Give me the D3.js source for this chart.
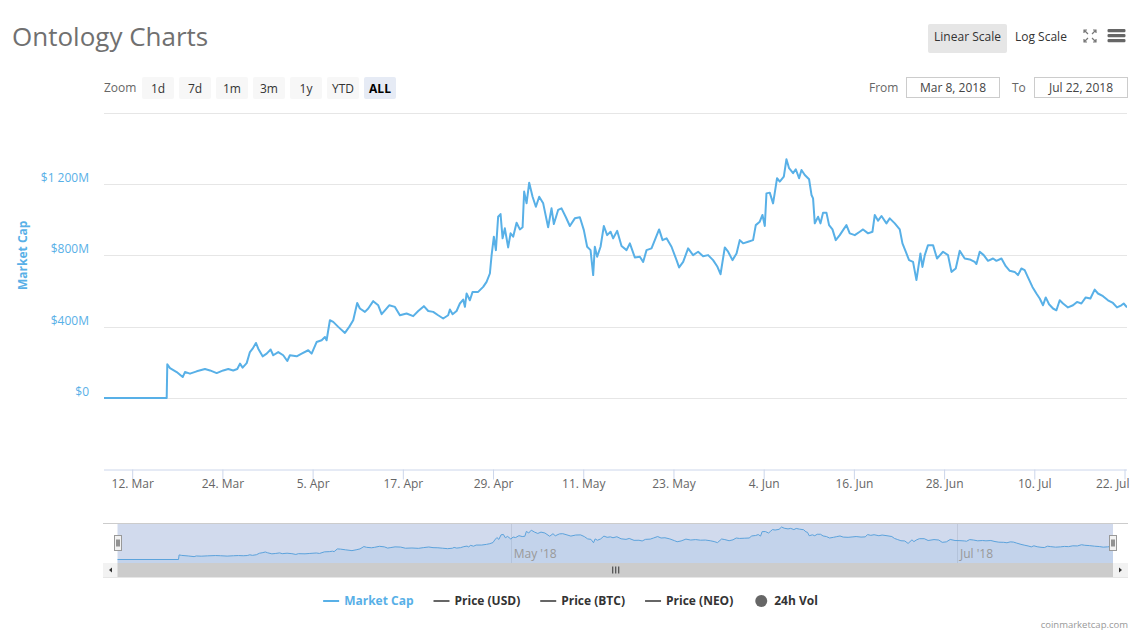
<!DOCTYPE html>
<html lang="en">
<head>
<meta charset="UTF-8">
<title>Ontology Charts</title>
<script src="https://d3js.org/d3.v7.min.js"></script>
<style>
    body { margin: 0; background: #fff; }
    svg text { font-family: "Open Sans", sans-serif; }
</style>
</head>
<body>
<div id="chart"></div>
<script>
    // data: market cap in $M, time as days after the first point (2018-03-08 06:00 UTC)
    const startTime = Date.UTC(2018, 2, 8, 6);
    const dayOffsets = [
        0, 8.34, 8.42, 8.78, 9.67, 10.47, 10.77, 11.44, 12.33, 13.43,
        14.10, 14.99, 15.86, 16.53, 17.19, 17.73, 18.09, 18.44, 18.98, 19.41,
        19.77, 20.21, 20.52, 21.10, 21.64, 22.17, 22.51, 23.18, 23.84, 24.38,
        24.73, 25.63, 26.29, 27.17, 27.62, 28.28, 28.95, 29.39, 29.61, 30.05,
        30.49, 31.16, 32.05, 32.62, 33.15, 33.68, 34.04, 34.71, 35.15, 35.81,
        36.48, 36.93, 37.37, 37.94, 38.70, 39.36, 40.25, 41.13, 41.80, 42.55,
        43.13, 43.79, 44.45, 45.12, 45.78, 46.01, 46.37, 46.90, 47.34, 47.78,
        48.01, 48.23, 48.67, 49.03, 49.77, 50.44, 50.89, 51.33, 51.56, 51.86,
        52.13, 52.43, 52.75, 53.02, 53.32, 53.76, 54.08, 54.43, 54.88, 55.32,
        55.68, 55.89, 56.21, 56.56, 57.01, 57.45, 57.89, 58.42, 59.08, 59.53,
        59.84, 60.41, 60.86, 61.44, 61.97, 62.63, 63.30, 63.83, 64.27, 64.72,
        65.07, 65.29, 65.60, 66.05, 66.49, 66.93, 67.38, 67.73, 68.26, 68.84,
        69.51, 69.95, 70.61, 71.28, 71.72, 72.17, 72.83, 73.27, 73.84, 74.30,
        74.83, 75.49, 76.16, 76.50, 77.04, 77.70, 78.36, 79.03, 79.69, 80.36,
        81.02, 81.56, 82.01, 82.58, 83.02, 83.60, 84.14, 84.57, 85.01, 85.68,
        86.34, 86.70, 87.23, 87.59, 87.90, 88.12, 88.56, 89.00, 89.23, 89.53,
        89.89, 90.43, 90.78, 91.13, 91.66, 92.02, 92.46, 92.78, 93.22, 93.79,
        94.11, 94.32, 94.55, 94.99, 95.31, 95.65, 96.10, 96.45, 96.90, 97.34,
        97.87, 98.31, 98.76, 99.20, 99.87, 100.53, 100.97, 101.64, 102.22, 102.53,
        102.97, 103.42, 104.08, 104.52, 105.19, 105.85, 106.21, 106.65, 107.09, 107.62,
        108.07, 108.60, 108.87, 109.18, 109.61, 110.28, 110.81, 111.61, 112.27, 112.73,
        113.30, 113.83, 114.49, 115.16, 115.82, 116.05, 116.49, 117.02, 117.59, 118.26,
        118.71, 119.38, 119.95, 120.48, 121.14, 121.58, 122.03, 122.47, 122.91, 123.50,
        124.03, 124.47, 124.91, 125.27, 125.71, 126.24, 126.69, 127.13, 127.57, 128.23,
        128.90, 129.43, 130.01, 130.59, 131.21, 131.78, 132.22, 132.89, 133.55, 134.21,
        134.75, 135.33, 135.64, 136.08
    ];
    const marketCapM = [
        0, 0, 189, 168, 146, 118, 146, 137, 150, 163,
        155, 140, 155, 163, 155, 163, 193, 171, 196, 258,
        277, 309, 277, 234, 249, 272, 240, 258, 240, 208,
        240, 234, 249, 268, 249, 314, 324, 342, 324, 436,
        427, 399, 365, 399, 436, 533, 502, 483, 502, 543,
        520, 470, 492, 520, 511, 464, 474, 459, 488, 515,
        488, 483, 464, 446, 464, 496, 470, 488, 530, 552,
        511, 586, 548, 595, 595, 623, 651, 698, 801, 904,
        829, 1016, 1031, 895, 951, 844, 923, 904, 982, 945,
        957, 1157, 1091, 1207, 1128, 1072, 1128, 1091, 957, 1063,
        975, 1054, 1063, 1013, 964, 1007, 1013, 941, 848, 829,
        689, 848, 792, 848, 964, 913, 932, 895, 937, 852,
        829, 867, 788, 792, 763, 829, 839, 885, 945, 885,
        895, 848, 773, 732, 763, 839, 801, 820, 795, 801,
        773, 739, 694, 844, 820, 773, 810, 885, 867, 876,
        885, 969, 988, 1026, 964, 1147, 1151, 1091, 1151, 1232,
        1213, 1241, 1338, 1288, 1260, 1282, 1232, 1278, 1250, 1226,
        1138, 1119, 979, 1016, 979, 1039, 1039, 969, 945, 885,
        913, 941, 969, 923, 913, 932, 945, 923, 932, 1026,
        994, 1020, 979, 1007, 979, 945, 867, 820, 773, 763,
        661, 810, 735, 801, 857, 857, 782, 820, 801, 707,
        726, 825, 782, 777, 763, 751, 820, 801, 769, 782,
        769, 782, 739, 713, 707, 689, 726, 717, 676, 623,
        586, 558, 520, 564, 526, 502, 492, 548, 530, 508,
        520, 539, 530, 564, 558, 608, 586, 571, 548, 533,
        508, 520, 530, 508
    ];

    const yTickValues = [0, 400, 800, 1200];
    const yGridValues = [0, 400, 800, 1200, 1600];
    const yDomain = [-400, 1600];
    const xTickDates = ["2018-03-12", "2018-03-24", "2018-04-05", "2018-04-17", "2018-04-29", "2018-05-11",
                        "2018-05-23", "2018-06-04", "2018-06-16", "2018-06-28", "2018-07-10", "2018-07-22"];
    const navTickDates = ["2018-05-01", "2018-07-01"];
    const zoomButtons = ["1d", "7d", "1m", "3m", "1y", "YTD", "ALL"];
    const selectedZoom = "ALL";
    const rangeFrom = "Mar 8, 2018";
    const rangeTo = "Jul 22, 2018";
    const legendNames = ["Market Cap", "Price (USD)", "Price (BTC)", "Price (NEO)", "24h Vol"];
    const legendSymbols = ["line", "line", "line", "line", "circle"];

    const blue = "#58b0e7";
    const W = 1141, H = 638;
    const plot = {left: 104, right: 1127, top: 112.5, bottom: 469.5};
    const nav = {left: 117.5, right: 1113, top: 523.5, bottom: 563};

    const series = dayOffsets.map((d, i) => ({
        date: new Date(startTime + d * 86400000),
        value: marketCapM[i]
    }));

    const svg = d3.select("#chart").append("svg")
        .attr("width", W)
        .attr("height", H);

    // title
    svg.append("text")
        .attr("x", 12).attr("y", 46)
        .attr("font-size", 26)
        .attr("fill", "#707070")
        .text("Ontology Charts");

    // scales
    const x = d3.scaleUtc()
        .domain(d3.extent(series, d => d.date))
        .range([plot.left, plot.right]);
    const y = d3.scaleLinear()
        .domain(yDomain)
        .range([plot.bottom, plot.top]);

    // grid lines
    svg.append("g").selectAll("line")
        .data(yGridValues)
        .join("line")
        .attr("x1", plot.left).attr("x2", plot.right)
        .attr("y1", d => Math.round(y(d)) + 0.5)
        .attr("y2", d => Math.round(y(d)) + 0.5)
        .attr("stroke", "#e6e6e6");

    // y labels
    const fmtLocale = d3.formatLocale({decimal: ".", thousands: " ", grouping: [3], currency: ["$", ""]});
    const fmtNum = fmtLocale.format(",");
    svg.append("g").selectAll("text")
        .data(yTickValues)
        .join("text")
        .attr("x", 89)
        .attr("y", d => y(d) - 2)
        .attr("text-anchor", "end")
        .attr("font-size", 12)
        .attr("fill", blue)
        .text(d => d === 0 ? "$0" : "$" + fmtNum(d) + "M");

    svg.append("text")
        .attr("transform", `translate(27,${y(800)}) rotate(-90)`)
        .attr("text-anchor", "middle")
        .attr("font-size", 12)
        .attr("font-weight", "bold")
        .attr("fill", blue)
        .text("Market Cap");

    // x axis
    const xAxisG = svg.append("g")
        .attr("transform", `translate(0,${plot.bottom})`)
        .call(d3.axisBottom(x)
            .tickValues(xTickDates.map(s => new Date(s + "T00:00:00Z")))
            .tickFormat(d3.utcFormat("%-d. %b"))
            .tickSize(10)
            .tickSizeOuter(0));
    xAxisG.select(".domain").attr("stroke", "#ccd6eb").attr("d", `M${plot.left},0.5H${plot.right}`);
    xAxisG.selectAll(".tick line").attr("stroke", "#ccd6eb");
    xAxisG.selectAll(".tick text")
        .attr("font-size", 12)
        .attr("fill", "#666")
        .attr("font-family", "Open Sans, sans-serif")
        .attr("dy", "0.71em")
        .attr("y", 10);
    xAxisG.selectAll(".tick").filter((d, i, n) => i === n.length - 1)
        .select("text")
        .attr("text-anchor", "end")
        .attr("x", plot.right - x(new Date(xTickDates[xTickDates.length - 1] + "T00:00:00Z")) + 2);

    // main line
    svg.append("clipPath").attr("id", "plotClip")
        .append("rect")
        .attr("x", plot.left).attr("y", plot.top)
        .attr("width", plot.right - plot.left).attr("height", plot.bottom - plot.top);

    const line = d3.line()
        .x(d => x(d.date))
        .y(d => y(d.value));

    svg.append("path")
        .datum(series)
        .attr("clip-path", "url(#plotClip)")
        .attr("fill", "none")
        .attr("stroke", blue)
        .attr("stroke-width", 2)
        .attr("stroke-linejoin", "round")
        .attr("d", line);

    // range selector buttons
    svg.append("text")
        .attr("x", 104).attr("y", 92)
        .attr("font-size", 12).attr("fill", "#666")
        .text("Zoom");
    const btn = svg.append("g").selectAll("g")
        .data(zoomButtons)
        .join("g")
        .attr("transform", (d, i) => `translate(${142 + i * 37},77)`);
    btn.append("rect")
        .attr("width", 32).attr("height", 22).attr("rx", 2)
        .attr("fill", d => d === selectedZoom ? "#e6ebf5" : "#f7f7f7");
    btn.append("text")
        .attr("x", 16).attr("y", 15.5)
        .attr("text-anchor", "middle")
        .attr("font-size", 12)
        .attr("font-weight", d => d === selectedZoom ? "bold" : "normal")
        .attr("fill", d => d === selectedZoom ? "#000" : "#333")
        .text(d => d);

    // from / to inputs
    svg.append("text").attr("x", 869).attr("y", 92)
        .attr("font-size", 12).attr("fill", "#666").text("From");
    svg.append("text").attr("x", 1012).attr("y", 92)
        .attr("font-size", 12).attr("fill", "#666").text("To");
    [[906.5, rangeFrom], [1034.5, rangeTo]].forEach(([bx, label]) => {
        svg.append("rect")
            .attr("x", bx).attr("y", 77.5)
            .attr("width", 93).attr("height", 20)
            .attr("fill", "#fff").attr("stroke", "#cccccc");
        svg.append("text")
            .attr("x", bx + 46.5).attr("y", 92)
            .attr("text-anchor", "middle")
            .attr("font-size", 12).attr("fill", "#444")
            .text(label);
    });

    // scale buttons and icons
    svg.append("rect")
        .attr("x", 928).attr("y", 24).attr("width", 79).attr("height", 29).attr("rx", 2)
        .attr("fill", "#e6e6e6");
    svg.append("text").attr("x", 967.5).attr("y", 40.5)
        .attr("text-anchor", "middle").attr("font-size", 12).attr("fill", "#333")
        .text("Linear Scale");
    svg.append("text").attr("x", 1015).attr("y", 40.5)
        .attr("font-size", 12).attr("fill", "#333")
        .text("Log Scale");
    const fs = svg.append("g").attr("stroke", "#777").attr("stroke-width", 1.2).attr("fill", "none");
    fs.append("path").attr("d",
        "M1084,33V30H1087M1084,30L1088,34" +
        "M1093,30H1096V33M1096,30L1092,34" +
        "M1084,39V42H1087M1084,42L1088,38" +
        "M1093,42H1096V39M1096,42L1092,38");
    svg.append("g").selectAll("rect")
        .data([0, 1, 2])
        .join("rect")
        .attr("x", 1107.5).attr("y", d => 29 + d * 5)
        .attr("width", 18).attr("height", 3.2).attr("rx", 1.2)
        .attr("fill", "#666");

    // navigator
    const xn = d3.scaleUtc().domain(x.domain()).range([nav.left, nav.right]);
    const yn = d3.scaleLinear().domain([0, d3.max(marketCapM)]).range([559.5, 527]);

    svg.append("g").selectAll("line")
        .data(navTickDates.map(s => new Date(s + "T00:00:00Z")))
        .join("line")
        .attr("x1", d => Math.round(xn(d)) + 0.5).attr("x2", d => Math.round(xn(d)) + 0.5)
        .attr("y1", nav.top).attr("y2", nav.bottom)
        .attr("stroke", "#e6e6e6");

    svg.append("path")
        .datum(series)
        .attr("fill", blue).attr("fill-opacity", 0.12)
        .attr("d", d3.area().x(d => xn(d.date)).y0(nav.bottom).y1(d => yn(d.value)));
    svg.append("path")
        .datum(series)
        .attr("fill", "none").attr("stroke", blue).attr("stroke-width", 1)
        .attr("d", d3.line().x(d => xn(d.date)).y(d => yn(d.value)));

    svg.append("rect")
        .attr("x", nav.left).attr("y", nav.top)
        .attr("width", nav.right - nav.left).attr("height", nav.bottom - nav.top)
        .attr("fill", "rgba(102,133,194,0.3)");

    svg.append("g").selectAll("text")
        .data(navTickDates.map(s => new Date(s + "T00:00:00Z")))
        .join("text")
        .attr("x", d => xn(d) + 3).attr("y", 558)
        .attr("font-size", 12).attr("fill", "#999")
        .text(d3.utcFormat("%b '%y"));

    svg.append("line")
        .attr("x1", plot.left - 1).attr("x2", plot.right + 1)
        .attr("y1", nav.top).attr("y2", nav.top)
        .attr("stroke", "#cccccc");

    // scrollbar
    svg.append("rect")
        .attr("x", plot.left - 1).attr("y", 563).attr("width", plot.right - plot.left + 2).attr("height", 14)
        .attr("fill", "#f2f2f2");
    svg.append("rect")
        .attr("x", nav.left).attr("y", 563).attr("width", nav.right - nav.left).attr("height", 14)
        .attr("fill", "#cccccc");
    svg.append("g").attr("stroke", "#333").selectAll("line")
        .data([-3, 0, 3])
        .join("line")
        .attr("x1", d => (nav.left + nav.right) / 2 + d + 0.5)
        .attr("x2", d => (nav.left + nav.right) / 2 + d + 0.5)
        .attr("y1", 566.5).attr("y2", 573.5);
    svg.append("path").attr("fill", "#333")
        .attr("d", `M${plot.left + 5},570L${plot.left + 8},567.5V572.5Z`);
    svg.append("path").attr("fill", "#333")
        .attr("d", `M${plot.right - 5},570L${plot.right - 8},567.5V572.5Z`);
    svg.append("line")
        .attr("x1", plot.left - 1).attr("x2", plot.right + 1)
        .attr("y1", 577.5).attr("y2", 577.5)
        .attr("stroke", "#e6e6e6");

    // navigator handles
    [nav.left, nav.right].forEach(hx => {
        const g = svg.append("g").attr("transform", `translate(${Math.round(hx) - 3.5},535.5)`);
        g.append("rect").attr("width", 7).attr("height", 15)
            .attr("fill", "#f2f2f2").attr("stroke", "#999");
        g.append("path").attr("stroke", "#333").attr("d", "M2.5,4V11M4.5,4V11");
    });

    // legend
    const legend = svg.append("g");
    const items = legend.selectAll("g")
        .data(legendNames)
        .join("g");
    items.append("text")
        .attr("x", 21).attr("y", 605)
        .attr("font-size", 12).attr("font-weight", "bold")
        .attr("fill", (d, i) => i === 0 ? blue : "#333")
        .text(d => d);
    items.each(function (d, i) {
        const g = d3.select(this);
        const c = i === 0 ? blue : "#666";
        if (legendSymbols[i] === "line") {
            g.append("line").attr("x1", 0).attr("x2", 16).attr("y1", 601).attr("y2", 601)
                .attr("stroke", c).attr("stroke-width", 2);
        } else {
            g.append("circle").attr("cx", 8).attr("cy", 601).attr("r", 6).attr("fill", c);
        }
    });
    const widths = [];
    items.select("text").each(function () { widths.push(21 + this.getComputedTextLength()); });
    const total = d3.sum(widths) + 20 * (widths.length - 1);
    let lx = W / 2 - total / 2;
    items.attr("transform", (d, i) => {
        const t = `translate(${lx},0)`;
        lx += widths[i] + 20;
        return t;
    });

    // credits
    svg.append("text")
        .attr("x", 1128).attr("y", 628)
        .attr("text-anchor", "end")
        .attr("font-size", 9.5).attr("fill", "#999")
        .text("coinmarketcap.com");
</script>
</body>
</html>
